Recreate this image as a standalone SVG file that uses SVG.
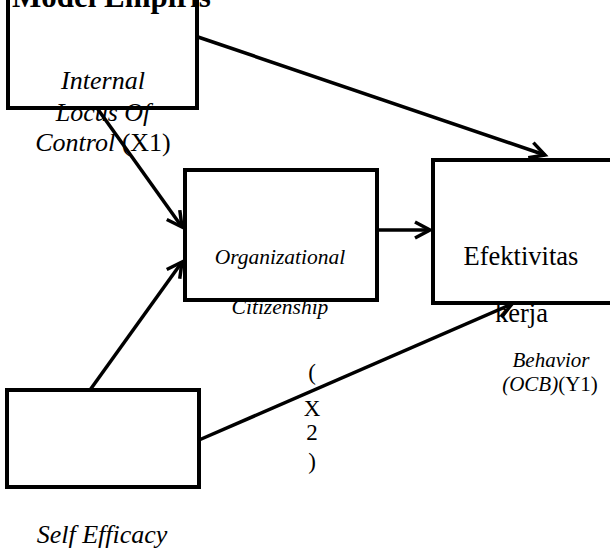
<svg xmlns="http://www.w3.org/2000/svg" width="610" height="553" viewBox="0 0 610 553">
<defs>
<style>
.box{fill:none;stroke:#000;stroke-width:4}
.t{font-family:"Liberation Serif","Times New Roman",serif;fill:#000}
.i{font-style:italic}
.c{stroke:#000;stroke-width:3.5;fill:none}
</style>
<marker id="ah" markerUnits="userSpaceOnUse" markerWidth="22" markerHeight="22" viewBox="0 0 22 22" refX="18" refY="11" orient="auto">
<path d="M3,3 L18,11 L3,19" fill="none" stroke="#000" stroke-width="3.5"/>
</marker>
</defs>
<rect width="610" height="553" fill="#fff"/>
<text class="t" x="12" y="7" font-size="31" font-weight="bold">Model Empiris</text>
<g id="node-x1">
<text class="t i" x="103" y="89" font-size="26" text-anchor="middle">Internal</text>
<text class="t i" x="103" y="121" font-size="26" text-anchor="middle">Locus Of</text>
<text class="t" x="103" y="151" font-size="26" text-anchor="middle"><tspan class="i">Control </tspan>(X1)</text>
<rect class="box" x="8" y="-5" width="189" height="113"/>
</g>
<g id="node-ocb">
<text class="t i" x="280" y="264" font-size="21.5" text-anchor="middle">Organizational</text>
<text class="t i" x="280" y="314" font-size="21.5" text-anchor="middle">Citizenship</text>
<rect class="box" x="185" y="170" width="192" height="130"/>
<text class="t i" x="551" y="367" font-size="21" text-anchor="middle">Behavior</text>
<text class="t" x="550" y="391" font-size="21" text-anchor="middle"><tspan class="i">(OCB)</tspan>(Y1)</text>
</g>
<g id="node-y">
<text class="t" x="521" y="265" font-size="26.5" text-anchor="middle">Efektivitas</text>
<text class="t" x="495" y="322" font-size="26.5">kerja</text>
<rect class="box" x="433" y="160" width="180" height="143"/>
</g>
<g id="node-x2">
<rect class="box" x="7" y="390" width="192" height="97"/>
<text class="t" x="312" y="380" font-size="23" text-anchor="middle">(</text>
<text class="t" x="312" y="416" font-size="23" text-anchor="middle">X</text>
<text class="t" x="312" y="440" font-size="23" text-anchor="middle">2</text>
<text class="t" x="312" y="469" font-size="23" text-anchor="middle">)</text>
<text class="t i" x="102" y="543" font-size="26" text-anchor="middle">Self Efficacy</text>
</g>
<g id="connectors">
<line class="c" x1="198" y1="37" x2="545" y2="155" marker-end="url(#ah)"/>
<line class="c" x1="97" y1="108" x2="182" y2="227" marker-end="url(#ah)"/>
<line class="c" x1="90" y1="390" x2="182" y2="262" marker-end="url(#ah)"/>
<line class="c" x1="377" y1="230" x2="430" y2="230" marker-end="url(#ah)"/>
<line class="c" x1="199" y1="440" x2="512" y2="304" marker-end="url(#ah)"/>
</g>
</svg>
